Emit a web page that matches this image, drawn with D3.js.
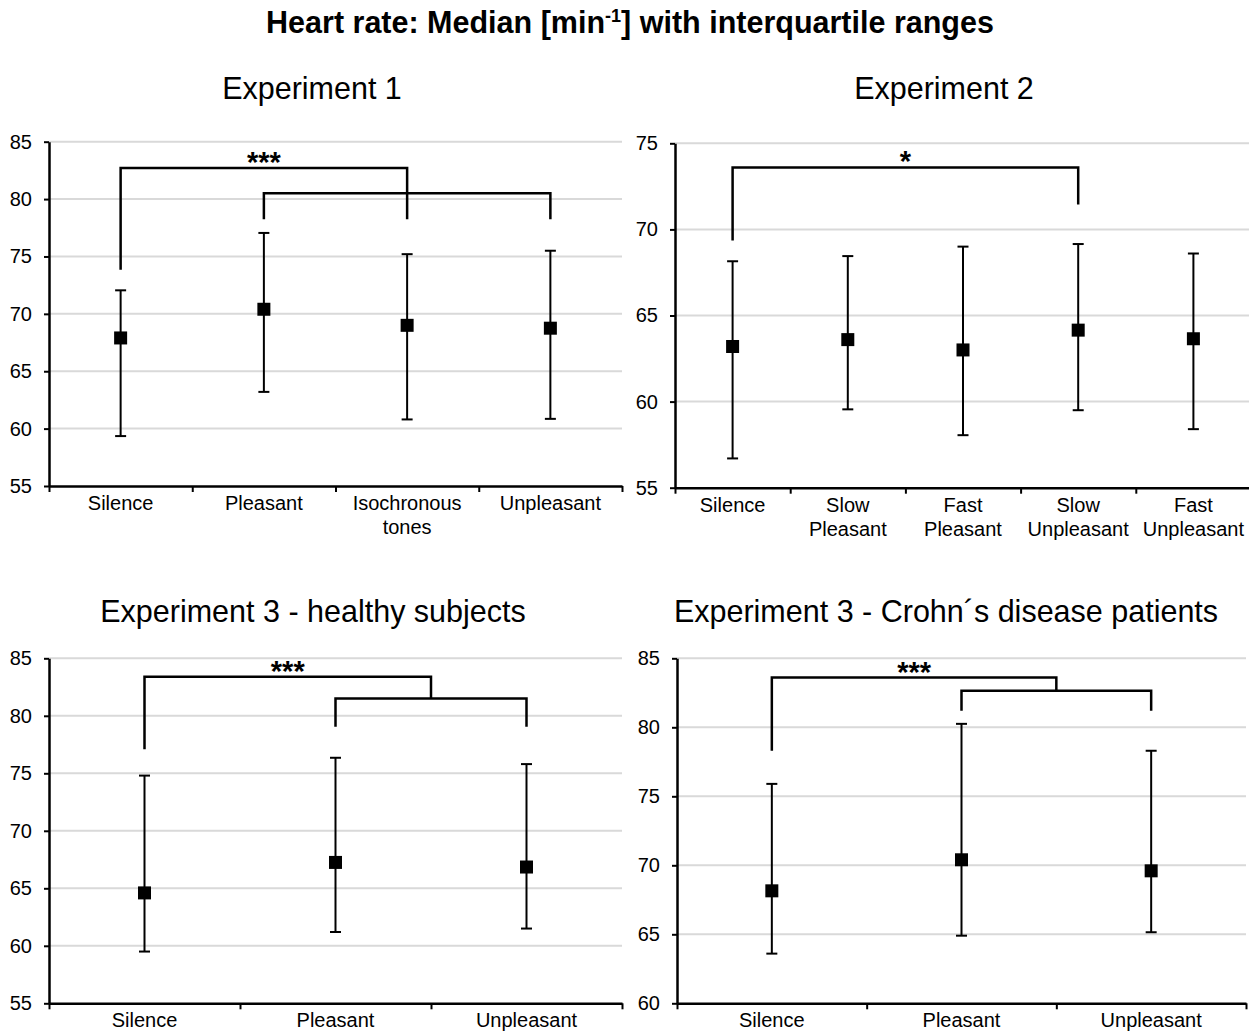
<!DOCTYPE html>
<html>
<head>
<meta charset="utf-8">
<script src="https://cdn.jsdelivr.net/npm/d3@7"></script>
<style>
  body { margin: 0; background: #fff; }
  svg text { font-family: "Liberation Sans", Arial, sans-serif; fill: #000; }
</style>
</head>
<body>
<svg id="chart" width="1249" height="1032"></svg>
<script>
// --- categories (a "\n" breaks the label onto two lines)
const exp1Categories = ["Silence", "Pleasant", "Isochronous\ntones", "Unpleasant"];
const exp2Categories = ["Silence", "Slow\nPleasant", "Fast\nPleasant", "Slow\nUnpleasant", "Fast\nUnpleasant"];
const exp3Categories = ["Silence", "Pleasant", "Unpleasant"];

// --- medians and interquartile ranges (heart rate, 1/min)
const exp1Median = [67.9, 70.4, 69.0, 68.75];
const exp1Q1     = [59.35, 63.2, 60.8, 60.85];
const exp1Q3     = [72.05, 77.05, 75.2, 75.5];

const exp2Median = [63.2, 63.6, 63.0, 64.15, 63.65];
const exp2Q1     = [56.7, 59.55, 58.05, 59.5, 58.4];
const exp2Q3     = [68.15, 68.45, 69.0, 69.15, 68.6];

const exp3hMedian = [64.6, 67.25, 66.85];
const exp3hQ1     = [59.5, 61.2, 61.5];
const exp3hQ3     = [74.8, 76.35, 75.8];

const exp3cMedian = [68.15, 70.4, 69.6];
const exp3cQ1     = [63.6, 64.9, 65.15];
const exp3cQ3     = [75.9, 80.25, 78.3];

// --- y ticks
const exp1Ticks  = [55, 60, 65, 70, 75, 80, 85];
const exp2Ticks  = [55, 60, 65, 70, 75];
const exp3hTicks = [55, 60, 65, 70, 75, 80, 85];
const exp3cTicks = [60, 65, 70, 75, 80, 85];

// --- significance brackets: from index, to index, bar level, left end, right end, stars
const exp1Brackets = [
  [0, 2, 82.7, 73.85, 78.25, "***"],
  [1, 3, 80.5, 78.25, 78.25, ""]
];
const exp2Brackets = [
  [0, 3, 73.6, 69.35, 71.45, "*"]
];
const exp3hBrackets = [
  [0, 1.5, 83.4, 77.1, 81.5, "***"],
  [1, 2, 81.5, 79.05, 79.05, ""]
];
const exp3cBrackets = [
  [0, 1.5, 83.6, 78.3, 82.65, "***"],
  [1, 2, 82.65, 81.2, 81.2, ""]
];

const svg = d3.select("#chart");

// main title
const mainTitle = svg.append("text")
  .attr("x", 630).attr("y", 33)
  .attr("text-anchor", "middle")
  .attr("font-size", 30.5).attr("font-weight", "bold");
mainTitle.append("tspan").text("Heart rate: Median [min");
mainTitle.append("tspan").attr("font-size", 18).attr("dy", -11).text("-1");
mainTitle.append("tspan").attr("dy", 11).text("] with interquartile ranges");

const panels = [
  { title: "Experiment 1", tx: 312, ty: 99, cats: exp1Categories, med: exp1Median, q1: exp1Q1, q3: exp1Q3,
    ticks: exp1Ticks, brackets: exp1Brackets, x0: 49, x1: 622, yTop: 141.7, yBot: 486, labelY: 510 },
  { title: "Experiment 2", tx: 944, ty: 99, cats: exp2Categories, med: exp2Median, q1: exp2Q1, q3: exp2Q3,
    ticks: exp2Ticks, brackets: exp2Brackets, x0: 675, x1: 1251, yTop: 143.3, yBot: 487.7, labelY: 512 },
  { title: "Experiment 3 - healthy subjects", tx: 313, ty: 622, cats: exp3Categories, med: exp3hMedian, q1: exp3hQ1, q3: exp3hQ3,
    ticks: exp3hTicks, brackets: exp3hBrackets, x0: 49, x1: 622, yTop: 658.3, yBot: 1003.3, labelY: 1027 },
  { title: "Experiment 3 - Crohn\u00b4s disease patients", tx: 946, ty: 622, cats: exp3Categories, med: exp3cMedian, q1: exp3cQ1, q3: exp3cQ3,
    ticks: exp3cTicks, brackets: exp3cBrackets, x0: 677, x1: 1246, yTop: 658.3, yBot: 1003.3, labelY: 1027 }
];

panels.forEach(p => {
  const n = p.cats.length;
  const x = d3.scaleLinear().domain([-0.5, n - 0.5]).range([p.x0, p.x1]);
  const y = d3.scaleLinear().domain(d3.extent(p.ticks)).range([p.yBot, p.yTop]);
  const g = svg.append("g");

  g.append("text")
    .attr("x", p.tx).attr("y", p.ty)
    .attr("text-anchor", "middle")
    .attr("font-size", 30.5)
    .text(p.title);

  // gridlines
  g.selectAll(".grid")
    .data(p.ticks.slice(1))
    .enter()
    .append("line")
    .attr("x1", p.x0).attr("x2", p.x1)
    .attr("y1", d => y(d)).attr("y2", d => y(d))
    .attr("stroke", "#d9d9d9").attr("stroke-width", 2);

  // y axis
  const yAxis = g.append("g")
    .attr("transform", `translate(${p.x0},0)`)
    .call(d3.axisLeft(y).tickValues(p.ticks).tickSize(5).tickSizeOuter(0).tickPadding(12));
  yAxis.selectAll("text").attr("font-size", 20).style("font-family", "Liberation Sans, Arial, sans-serif");
  yAxis.selectAll("line").attr("stroke", "#000").attr("stroke-width", 2);
  yAxis.select(".domain").attr("stroke", "#000").attr("stroke-width", 2.5);

  // x axis, ticks between categories
  const xAxis = g.append("g")
    .attr("transform", `translate(0,${p.yBot})`)
    .call(d3.axisBottom(x).tickValues(d3.range(n + 1).map(i => i - 0.5)).tickSize(6).tickSizeOuter(0).tickFormat(""));
  xAxis.selectAll("line").attr("stroke", "#000").attr("stroke-width", 2);
  xAxis.select(".domain").attr("stroke", "#000").attr("stroke-width", 2.5);

  // category labels
  const labels = g.selectAll(".cat")
    .data(p.cats)
    .enter()
    .append("text")
    .attr("text-anchor", "middle")
    .attr("font-size", 20);
  labels.each(function (d, i) {
    const t = d3.select(this);
    d.split("\n").forEach((line, k) => {
      t.append("tspan").attr("x", x(i)).attr("y", p.labelY + k * 23.5).text(line);
    });
  });

  // error bars
  const bars = g.selectAll(".bar")
    .data(p.med.map((m, i) => ({ i, m, lo: p.q1[i], hi: p.q3[i] })))
    .enter()
    .append("g");
  bars.append("line")
    .attr("x1", d => x(d.i)).attr("x2", d => x(d.i))
    .attr("y1", d => y(d.lo)).attr("y2", d => y(d.hi))
    .attr("stroke", "#000").attr("stroke-width", 2);
  ["lo", "hi"].forEach(k => {
    bars.append("line")
      .attr("x1", d => x(d.i) - 5.5).attr("x2", d => x(d.i) + 5.5)
      .attr("y1", d => y(d[k])).attr("y2", d => y(d[k]))
      .attr("stroke", "#000").attr("stroke-width", 2);
  });
  bars.append("rect")
    .attr("x", d => x(d.i) - 6.5).attr("y", d => y(d.m) - 6.5)
    .attr("width", 13).attr("height", 13)
    .attr("fill", "#000");

  // significance brackets
  p.brackets.forEach(b => {
    const [from, to, level, left, right, stars] = b;
    g.append("path")
      .attr("d", `M${x(from)},${y(left)}V${y(level)}H${x(to)}V${y(right)}`)
      .attr("fill", "none").attr("stroke", "#000").attr("stroke-width", 2.5);
    if (stars) {
      g.append("text")
        .attr("x", (x(from) + x(to)) / 2)
        .attr("y", y(level) + 4)
        .attr("text-anchor", "middle")
        .attr("font-size", 29).attr("font-weight", "bold")
        .text(stars);
    }
  });
});
</script>
</body>
</html>
